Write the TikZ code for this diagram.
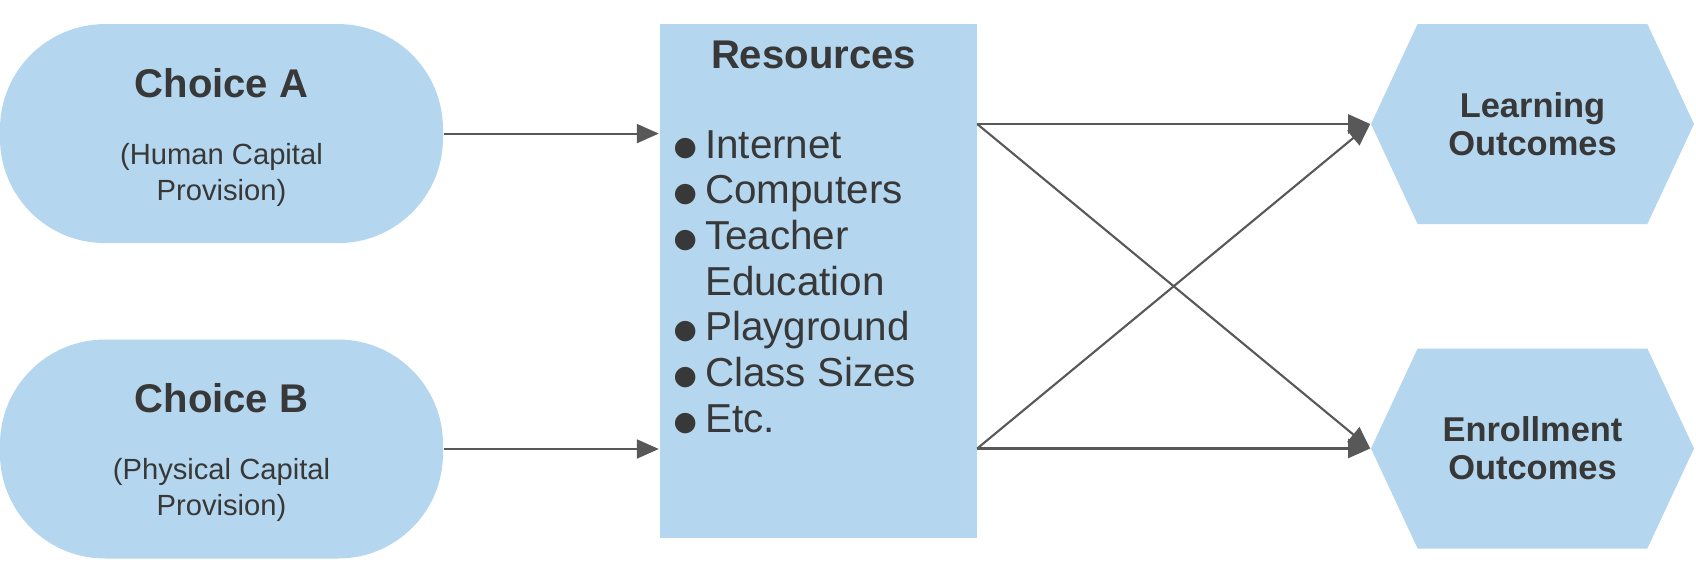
\documentclass[tikz,border=0pt]{standalone}
\usepackage{fontspec}
\setmainfont{Liberation Sans}
\newfontfamily\symfont{DejaVu Sans}
\usepackage{xcolor}
\usetikzlibrary{arrows.meta,shapes.symbols}
\definecolor{boxblue}{RGB}{180,214,238}
\definecolor{inkgray}{RGB}{56,56,56}
\definecolor{linegray}{RGB}{88,88,88}
\newcommand{\resbullet}{\raisebox{0.6pt}{\symfont\fontsize{7.6}{9}\selectfont ●}}

\begin{document}
\begin{tikzpicture}[
  pill/.style={fill=boxblue, minimum width=4.43cm, minimum height=2.19cm, rounded corners=1.05cm, inner sep=0},
  resbox/.style={fill=boxblue, minimum width=3.17cm, minimum height=5.14cm, inner sep=0},
  hexa/.style={shape=signal, signal to=west and east, signal pointer angle=130, fill=boxblue,
    minimum width=3.23cm, minimum height=2cm, inner sep=0, text=inkgray, align=center,
    font=\fontsize{9.8}{10.8}\selectfont\bfseries},
  headtext/.style={text=inkgray, inner sep=0, font=\fontsize{11.4}{13}\selectfont\bfseries},
  subtext/.style={text=inkgray, inner sep=0, align=center, font=\fontsize{8.3}{10}\selectfont},
  arr/.style={draw=linegray, line width=0.6pt, -{Triangle[length=2.2mm,width=1.9mm]}}
]
\useasboundingbox (0,0) rectangle (16.96,5.68);

\node (ChA) at (2.215,4.344) [pill] {};
\node (ChB) at (2.215,1.19) [pill] {};
\node (Res) at (8.18,2.873) [resbox] {};
\node (Learn) at (15.325,4.44) [hexa] {Learning\\Outcomes};
\node (Enrol) at (15.325,1.195) [hexa] {Enrollment\\Outcomes};

\node (ChAt) at (2.215,4.85) [headtext] {Choice A};
\node (ChAs) at (2.215,3.93) [subtext] {(Human Capital\\Provision)};
\node (ChBt) at (2.215,1.70) [headtext] {Choice B};
\node (ChBs) at (2.215,0.78) [subtext] {(Physical Capital\\Provision)};

\node (Rest) at (8.135,5.13) [headtext] {Resources};
\node (ResList) at (6.73,4.10) [anchor=base west, inner sep=0, text=inkgray, font=\fontsize{11.5}{13}\selectfont]
  {\begin{tabular}[t]{@{}l@{\hspace{0.2em}}l@{}}
   \resbullet & Internet\\
   \resbullet & Computers\\
   \resbullet & Teacher\\
              & Education\\
   \resbullet & Playground\\
   \resbullet & Class Sizes\\
   \resbullet & Etc.
   \end{tabular}};

\draw [arr] (ChA) -- (ChA -| Res.west);
\draw [arr] (ChB) -- (ChB -| Res.west);
\draw [arr] (Res.east |- Learn.west) -- (Learn.west);
\draw [arr] (Res.east |- Learn.west) -- (Enrol.west);
\draw [arr] (Res.east |- Enrol.west) -- (Learn.west);
\draw [arr] (Res.east |- Enrol.west) -- (Enrol.west);
\end{tikzpicture}
\end{document}
